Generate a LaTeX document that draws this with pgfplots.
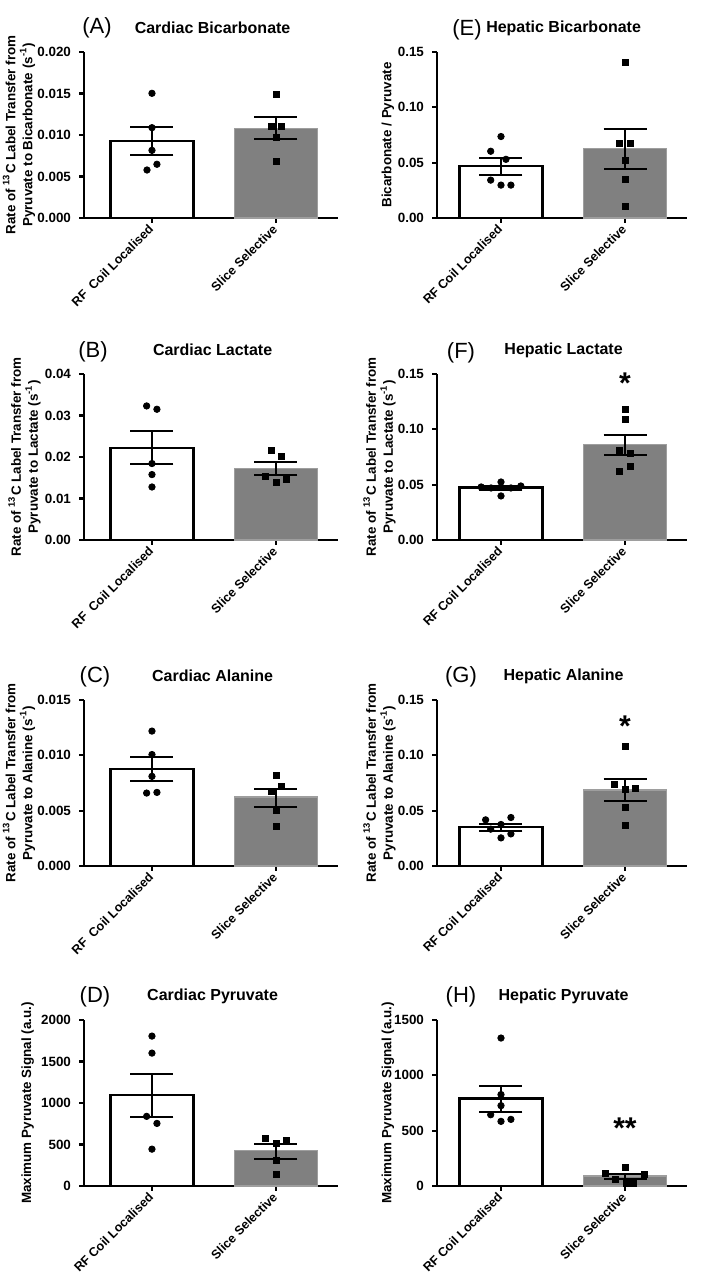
\documentclass[border=0pt]{standalone}
\usepackage{fontspec}
\setmainfont{Liberation Sans}
\usepackage{pgfplots}
\pgfplotsset{compat=1.18}
\newcommand\tickfont{\fontsize{6.7}{8.5}\selectfont\bfseries}
\newcommand\xtickfont{\fontsize{6.3}{7.5}\selectfont\bfseries}
\newcommand\titlefont{\fontsize{8}{9.5}\selectfont\bfseries}
\newcommand\letterfont{\fontsize{11}{13}\selectfont}
\newcommand\starfont{\fontsize{15}{17}\selectfont\bfseries}
\pgfplotsset{
 panel/.style={scale only axis, height=83pt, ymin=0, xtick={0,1},
   scaled y ticks=false,
   xticklabels={RF\ \ Coil Localised,Slice Selective},
   axis x line=bottom, axis y line=left,
   axis line style={-, line width=1.1pt, black},
   tick align=outside, major tick length=2.5pt,
   tick style={line width=1.1pt, black},
   clip=false,
   yticklabel style={font=\tickfont, xshift=-0.5pt},
   xticklabel style={font=\xtickfont, xshift=2pt, yshift=0.5pt, rotate=45, anchor=east},
   ylabel style={font=\tickfont, align=center, anchor=center},
   every axis title shift=0pt,
   title style={font=\titlefont, at={(0.5,1)}, anchor=center, yshift=12pt, xshift=0.8pt}},
 leftcol/.style={panel, width=127pt, xmin=-0.548, xmax=1.5},
 rightcol/.style={panel, width=125pt, xmin=-0.516, xmax=1.5,
   xticklabels={RF Coil Localised,Slice Selective}},
 wbar/.style={ybar, bar width=0.67, bar shift=0pt, fill=white, draw=black, line width=1.2pt},
 gbar/.style={ybar, bar width=0.67, bar shift=0pt, fill=black!50, draw=black!38, line width=0.8pt},
 ebar/.style={draw=none, mark=none, forget plot,
   error bars/.cd, y dir=both, y explicit,
   error bar style={line width=1pt, black},
   error mark options={rotate=90, mark size=10.75pt, line width=1pt, black}},
 circ/.style={only marks, mark=*, mark size=1.6pt, black},
 sq/.style={only marks, mark=square*, mark size=1.5pt, black},
}
\begin{document}
\begin{tikzpicture}
\useasboundingbox (0,0) rectangle (354.5pt,638.5pt);

% (A)
\begin{axis}[leftcol, at={(42pt,529.5pt)}, anchor=south west,
  ymax=0.020, ytick={0,0.005,0.010,0.015,0.020},
  yticklabels={0.000,0.005,0.010,0.015,0.020},
  title={Cardiac Bicarbonate},
  ylabel={Rate of \textsuperscript{13}C Label Transfer from\\Pyruvate to Bicarbonate (s\textsuperscript{-1})},
  ylabel style={at={(axis description cs:-0.256,0.5)}}]
\addplot[wbar] coordinates {(0,0.0093)};
\addplot[gbar] coordinates {(1,0.0108)};
\addplot[ebar] coordinates {(0,0.0093) +- (0,0.0017) (1,0.0108) +- (0,0.00133)};
\addplot[circ] coordinates {(0,0.01502) (0,0.01088) (0,0.00815) (0.04,0.00647) (-0.04,0.00578)};
\addplot[sq] coordinates {(1,0.01494) (0.96,0.0110) (1.04,0.0110) (1,0.00968) (1,0.00687)};
\node[font=\letterfont] at (rel axis cs:0,1) [xshift=6.5pt, yshift=12pt] {(A)};
\end{axis}

% (B)
\begin{axis}[leftcol, at={(42pt,368.5pt)}, anchor=south west,
  ymax=0.04, ytick={0,0.01,0.02,0.03,0.04},
  yticklabels={0.00,0.01,0.02,0.03,0.04},
  title={Cardiac Lactate},
  ylabel={Rate of \textsuperscript{13}C Label Transfer from\\Pyruvate to Lactate (s\textsuperscript{-1})},
  ylabel style={at={(axis description cs:-0.234,0.5)}}]
\addplot[wbar] coordinates {(0,0.0222)};
\addplot[gbar] coordinates {(1,0.0172)};
\addplot[ebar] coordinates {(0,0.0222) +- (0,0.0040) (1,0.0172) +- (0,0.0015)};
\addplot[circ] coordinates {(-0.043,0.0323) (0.04,0.0315) (0,0.01842) (0,0.01576) (0,0.01277)};
\addplot[sq] coordinates {(0.96,0.02158) (1.04,0.02004) (0.917,0.01535) (1.08,0.01471) (1,0.01382)};
\node[font=\letterfont] at (rel axis cs:0,1) [xshift=4.5pt, yshift=11pt] {(B)};
\end{axis}

% (C)
\begin{axis}[leftcol, at={(42pt,205.5pt)}, anchor=south west,
  ymax=0.015, ytick={0,0.005,0.010,0.015},
  yticklabels={0.000,0.005,0.010,0.015},
  title={Cardiac Alanine},
  ylabel={Rate of \textsuperscript{13}C Label Transfer from\\Pyruvate to Alanine (s\textsuperscript{-1})},
  ylabel style={at={(axis description cs:-0.256,0.5)}}]
\addplot[wbar] coordinates {(0,0.00874)};
\addplot[gbar] coordinates {(1,0.00623)};
\addplot[ebar] coordinates {(0,0.00874) +- (0,0.0011) (1,0.00617) +- (0,0.0008)};
\addplot[circ] coordinates {(0,0.01219) (0,0.01007) (0,0.0081) (-0.043,0.00659) (0.04,0.00665)};
\addplot[sq] coordinates {(1,0.0082) (1.04,0.00723) (0.96,0.00677) (1,0.00505) (1,0.00357)};
\node[font=\letterfont] at (rel axis cs:0,1) [xshift=5.5pt, yshift=11.5pt] {(C)};
\end{axis}

% (D)
\begin{axis}[leftcol, at={(42pt,45.5pt)}, anchor=south west,
  xticklabels={RF Coil Localised,Slice Selective},
  ymax=2000, ytick={0,500,1000,1500,2000},
  yticklabels={0,500,1000,1500,2000},
  title={Cardiac Pyruvate},
  ylabel={Maximum Pyruvate Signal (a.u.)},
  ylabel style={at={(axis description cs:-0.222,0.5)}}]
\addplot[wbar] coordinates {(0,1097)};
\addplot[gbar] coordinates {(1,427)};
\addplot[ebar] coordinates {(0,1091) +- (0,260) (1,415) +- (0,85)};
\addplot[circ] coordinates {(0,1806) (0,1601) (-0.043,839) (0.04,754) (0,444)};
\addplot[sq] coordinates {(0.917,569) (1,516) (1.08,544) (1,310) (1,137)};
\node[font=\letterfont] at (rel axis cs:0,1) [xshift=5.5pt, yshift=11.5pt] {(D)};
\end{axis}

% (E)
\begin{axis}[rightcol, at={(218.5pt,529.5pt)}, anchor=south west,
  ymax=0.15, ytick={0,0.05,0.10,0.15},
  yticklabels={0.00,0.05,0.10,0.15},
  title={Hepatic Bicarbonate},
  ylabel={Bicarbonate / Pyruvate},
  ylabel style={at={(axis description cs:-0.196,0.5)}}]
\addplot[wbar] coordinates {(0,0.0470)};
\addplot[gbar] coordinates {(1,0.0627)};
\addplot[ebar] coordinates {(0,0.0467) +- (0,0.0076) (1,0.0624) +- (0,0.018)};
\addplot[circ] coordinates {(0,0.0736) (-0.083,0.0603) (0.04,0.0530) (-0.083,0.0342) (0,0.0297) (0.08,0.0297)};
\addplot[sq] coordinates {(1,0.1403) (0.957,0.0676) (1.043,0.0676) (1,0.0524) (1,0.0352) (1,0.0103)};
\node[font=\letterfont] at (rel axis cs:0,1) [xshift=15pt, yshift=11pt] {(E)};
\end{axis}

% (F)
\begin{axis}[rightcol, at={(218.5pt,368.5pt)}, anchor=south west,
  ymax=0.15, ytick={0,0.05,0.10,0.15},
  yticklabels={0.00,0.05,0.10,0.15},
  title={Hepatic Lactate},
  ylabel={Rate of \textsuperscript{13}C Label Transfer from\\Pyruvate to Lactate (s\textsuperscript{-1})},
  ylabel style={at={(axis description cs:-0.23,0.5)}}]
\addplot[wbar] coordinates {(0,0.0473)};
\addplot[gbar] coordinates {(1,0.0864)};
\addplot[ebar] coordinates {(0,0.0472) +- (0,0.0020) (1,0.0858) +- (0,0.0094)};
\addplot[circ] coordinates {(-0.16,0.0479) (-0.08,0.0470) (0,0.0524) (0.08,0.0470) (0.16,0.0488) (0,0.0398)};
\addplot[sq] coordinates {(1,0.1181) (1,0.109) (0.957,0.081) (1.04,0.078) (1.04,0.0669) (0.957,0.062)};
\node[font=\starfont] at (axis cs:1,0.142) {*};
\node[font=\letterfont] at (rel axis cs:0,1) [xshift=12pt, yshift=10.5pt] {(F)};
\end{axis}

% (G)
\begin{axis}[rightcol, at={(218.5pt,205.5pt)}, anchor=south west,
  ymax=0.15, ytick={0,0.05,0.10,0.15},
  yticklabels={0.00,0.05,0.10,0.15},
  title={Hepatic Alanine},
  ylabel={Rate of \textsuperscript{13}C Label Transfer from\\Pyruvate to Alanine (s\textsuperscript{-1})},
  ylabel style={at={(axis description cs:-0.23,0.5)}}]
\addplot[wbar] coordinates {(0,0.0351)};
\addplot[gbar] coordinates {(1,0.0689)};
\addplot[ebar] coordinates {(0,0.0350) +- (0,0.0032) (1,0.0685) +- (0,0.0098)};
\addplot[circ] coordinates {(-0.124,0.0417) (0.08,0.0438) (-0.083,0.0333) (0,0.0375) (0,0.0254) (0.08,0.029)};
\addplot[sq] coordinates {(1,0.108) (0.917,0.0735) (1,0.069) (1.08,0.0705) (1,0.0532) (1,0.0369)};
\node[font=\starfont] at (axis cs:1,0.126) {*};
\node[font=\letterfont] at (rel axis cs:0,1) [xshift=12pt, yshift=11.5pt] {(G)};
\end{axis}

% (H)
\begin{axis}[rightcol, at={(218.5pt,45.5pt)}, anchor=south west,
  ymax=1500, ytick={0,500,1000,1500},
  yticklabels={0,500,1000,1500},
  title={Hepatic Pyruvate},
  ylabel={Maximum Pyruvate Signal (a.u.)},
  ylabel style={at={(axis description cs:-0.196,0.5)}}]
\addplot[wbar] coordinates {(0,789)};
\addplot[gbar] coordinates {(1,90)};
\addplot[ebar] coordinates {(0,786) +- (0,115) (1,88) +- (0,22)};
\addplot[circ] coordinates {(0,1337) (0,826) (0,726) (-0.083,644) (0,584) (0.08,602)};
\addplot[sq] coordinates {(0.84,117) (0.92,63) (1,172) (1.01,27) (1.07,27) (1.16,108)};
\node[font=\starfont] at (axis cs:1,524) {**};
\node[font=\letterfont] at (rel axis cs:0,1) [xshift=12pt, yshift=11.5pt] {(H)};
\end{axis}
\end{tikzpicture}
\end{document}
